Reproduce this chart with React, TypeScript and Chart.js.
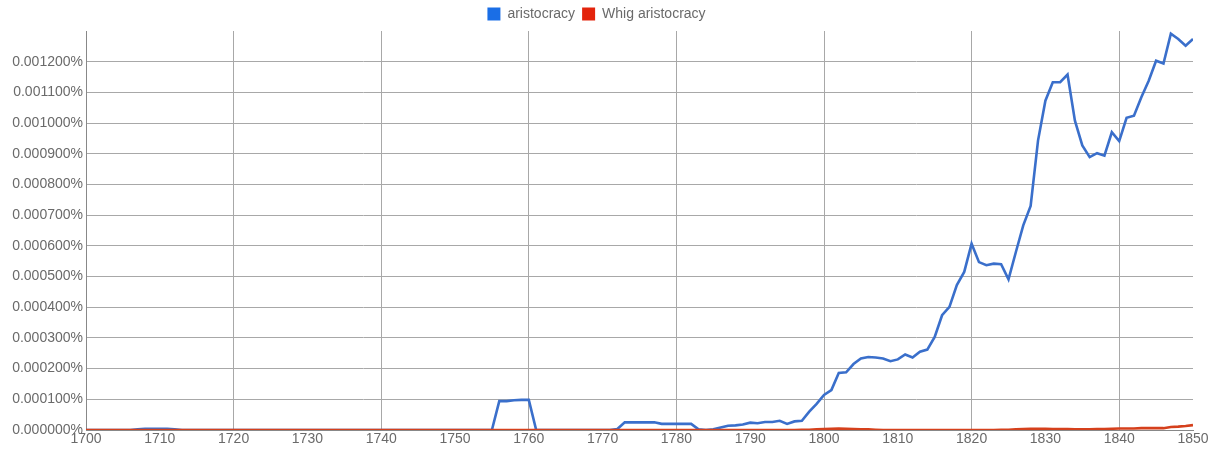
import React, { useEffect, useRef } from "react";
import { Chart, registerables } from "chart.js";

Chart.register(...registerables);

const years = [
  1700, 1701, 1702, 1703, 1704, 1705, 1706, 1707, 1708, 1709,
  1710, 1711, 1712, 1713, 1714, 1715, 1716, 1717, 1718, 1719,
  1720, 1721, 1722, 1723, 1724, 1725, 1726, 1727, 1728, 1729,
  1730, 1731, 1732, 1733, 1734, 1735, 1736, 1737, 1738, 1739,
  1740, 1741, 1742, 1743, 1744, 1745, 1746, 1747, 1748, 1749,
  1750, 1751, 1752, 1753, 1754, 1755, 1756, 1757, 1758, 1759,
  1760, 1761, 1762, 1763, 1764, 1765, 1766, 1767, 1768, 1769,
  1770, 1771, 1772, 1773, 1774, 1775, 1776, 1777, 1778, 1779,
  1780, 1781, 1782, 1783, 1784, 1785, 1786, 1787, 1788, 1789,
  1790, 1791, 1792, 1793, 1794, 1795, 1796, 1797, 1798, 1799,
  1800, 1801, 1802, 1803, 1804, 1805, 1806, 1807, 1808, 1809,
  1810, 1811, 1812, 1813, 1814, 1815, 1816, 1817, 1818, 1819,
  1820, 1821, 1822, 1823, 1824, 1825, 1826, 1827, 1828, 1829,
  1830, 1831, 1832, 1833, 1834, 1835, 1836, 1837, 1838, 1839,
  1840, 1841, 1842, 1843, 1844, 1845, 1846, 1847, 1848, 1849,
  1850,
];

// values in percent
const aristocracy = [
  0, 0, 0, 0, 0, 0, 0, 0.000002, 0.000004, 0.000004,
  0.000004, 0.000004, 0.000002, 0, 0, 0, 0, 0, 0, 0,
  0, 0, 0, 0, 0, 0, 0, 0, 0, 0,
  0, 0, 0, 0, 0, 0, 0, 0, 0, 0,
  0, 0, 0, 0, 0, 0, 0, 0, 0, 0,
  0, 0, 0, 0, 0, 0, 0.000094, 0.000094, 0.000097, 0.000098,
  0.000098, 0, 0, 0, 0, 0, 0, 0, 0, 0,
  0, 0, 0.000003, 0.000025, 0.000025, 0.000025, 0.000025, 0.000025, 0.00002, 0.00002,
  0.00002, 0.00002, 0.00002, 0.000002, 0, 0.000002, 0.000008, 0.000014, 0.000015, 0.000018,
  0.000024, 0.000022, 0.000026, 0.000026, 0.00003, 0.00002, 0.000028, 0.00003, 0.00006, 0.000085,
  0.000114, 0.00013, 0.000186, 0.000188, 0.000215, 0.000233, 0.000238, 0.000236, 0.000233, 0.000224,
  0.00023, 0.000246, 0.000236, 0.000255, 0.000262, 0.000303, 0.000374, 0.000401, 0.000472, 0.000515,
  0.000607, 0.000547, 0.000537, 0.000542, 0.00054, 0.000491, 0.00058, 0.000667, 0.00073, 0.000943,
  0.001073, 0.001133, 0.001133, 0.001158, 0.001008, 0.000927, 0.000889, 0.000902, 0.000894, 0.00097,
  0.000941, 0.001017, 0.001024, 0.001084, 0.001138, 0.001203, 0.001194, 0.001291, 0.001274, 0.001252,
  0.001274,
];

const whigAristocracy = [
  0, 0, 0, 0, 0, 0, 0, 0, 0, 0,
  0, 0, 0, 0, 0, 0, 0, 0, 0, 0,
  0, 0, 0, 0, 0, 0, 0, 0, 0, 0,
  0, 0, 0, 0, 0, 0, 0, 0, 0, 0,
  0, 0, 0, 0, 0, 0, 0, 0, 0, 0,
  0, 0, 0, 0, 0, 0, 0, 0, 0, 0,
  0, 0, 0, 0, 0, 0, 0, 0, 0, 0,
  0, 0, 0, 0, 0, 0, 0, 0, 0, 0,
  0, 0, 0, 0, 0, 0, 0, 0, 0, 0,
  0, 0, 0, 0, 0, 0, 0, 0.000001, 0.000001, 0.000002,
  0.000003, 0.000004, 0.000005, 0.000004, 0.000003, 0.000002, 0.000002, 0.000001, 0, 0,
  0, 0, 0, 0, 0, 0, 0, 0, 0, 0,
  0, 0, 0, 0, 0.000001, 0.000001, 0.000002, 0.000003, 0.000004, 0.000004,
  0.000004, 0.000003, 0.000003, 0.000003, 0.000002, 0.000002, 0.000002, 0.000003, 0.000003, 0.000004,
  0.000005, 0.000005, 0.000005, 0.000006, 0.000006, 0.000006, 0.000006, 0.00001, 0.000011, 0.000013,
  0.000016,
];

const seriesNames = ["aristocracy", "Whig aristocracy"];
const lineColors = ["#3a6fcb", "#d5401c"];
const legendColors = ["#1a6ee6", "#e3240c"];

const FONT = "'Liberation Sans', Arial, Helvetica, sans-serif";
const GRID = "#a8a8a8";
const TEXT = "#6a6a6a";

export default function App() {
  const canvasRef = useRef<HTMLCanvasElement | null>(null);

  useEffect(() => {
    document.body.style.margin = "0";
    const canvas = canvasRef.current;
    if (!canvas) return;

    const legendHeightPlugin = {
      id: "legendHeight",
      beforeInit(chart: any) {
        const legend = chart.legend;
        if (!legend) return;
        const origFit = legend.fit;
        legend.fit = function () {
          origFit.call(this);
          this.height = 31;
        };
      },
    };

    const toPoints = (vals: number[]) => years.map((y, i) => ({ x: y, y: vals[i] }));

    const chart = new Chart(canvas, {
      type: "line",
      data: {
        datasets: [
          {
            label: seriesNames[0],
            data: toPoints(aristocracy),
            borderColor: lineColors[0],
            backgroundColor: legendColors[0],
            borderWidth: 2.6,
            pointRadius: 0,
            tension: 0,
            fill: false,
            order: 1,
          },
          {
            label: seriesNames[1],
            data: toPoints(whigAristocracy),
            borderColor: lineColors[1],
            backgroundColor: legendColors[1],
            borderWidth: 2.6,
            pointRadius: 0,
            tension: 0,
            fill: false,
            order: 0,
          },
        ],
      },
      options: {
        animation: false,
        responsive: true,
        maintainAspectRatio: false,
        layout: { padding: { left: 0, right: 28, top: 0, bottom: 0 } },
        plugins: {
          tooltip: { enabled: false },
          legend: {
            position: "top",
            labels: {
              boxWidth: 13,
              boxHeight: 13,
              padding: 7,
              color: TEXT,
              font: { family: FONT, size: 14 },
              generateLabels: (c: any) =>
                (Chart.defaults.plugins.legend.labels as any)
                  .generateLabels(c)
                  .sort((a: any, b: any) => a.datasetIndex - b.datasetIndex)
                  .map((l: any) => ({ ...l, lineWidth: 0, strokeStyle: "rgba(0,0,0,0)" })),
            },
          },
        },
        scales: {
          x: {
            type: "linear",
            min: 1700,
            max: 1850,
            ticks: {
              stepSize: 10,
              padding: 1,
              color: TEXT,
              font: { family: FONT, size: 14 },
              callback: (v: any) => String(v),
              maxRotation: 0,
              autoSkip: false,
            },
            grid: {
              color: (ctx: any) => {
                const v = ctx.tick ? ctx.tick.value : 0;
                if (v % 20 === 0 && v !== 1700 && v !== 1850) return GRID;
                return "rgba(0,0,0,0)";
              },
              lineWidth: 1,
              drawTicks: false,
            },
            border: { color: "#888888", width: 1 },
            afterFit: (scale: any) => {
              scale.height = 21;
            },
          },
          y: {
            type: "linear",
            min: 0,
            max: 0.0013,
            ticks: {
              stepSize: 0.0001,
              padding: 3,
              color: TEXT,
              font: { family: FONT, size: 14 },
              callback: (v: any) => {
                const n = Number(v);
                if (Math.abs(n - 0.0013) < 1e-9) return "";
                return n.toFixed(6) + "%";
              },
            },
            grid: {
              color: (ctx: any) => {
                const v = ctx.tick ? ctx.tick.value : 0;
                if (Math.abs(v - 0.0013) < 1e-9) return "rgba(0,0,0,0)";
                return GRID;
              },
              lineWidth: 1,
              drawTicks: false,
            },
            border: { color: "#888888", width: 1 },
            afterFit: (scale: any) => {
              scale.width = 86;
            },
          },
        },
      },
      plugins: [legendHeightPlugin],
    } as any);

    return () => {
      chart.destroy();
    };
  }, []);

  return (
    <div style={{ position: "relative", width: 1221, height: 451, background: "#ffffff" }}>
      <canvas ref={canvasRef} />
    </div>
  );
}
